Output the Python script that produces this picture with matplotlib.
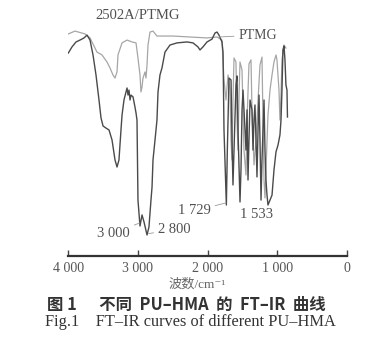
#!/usr/bin/env python3
import matplotlib.pyplot as plt
import numpy as np

plt.rcParams.update({
    "font.family": ["Liberation Serif", "Noto Sans CJK SC", "DejaVu Serif"],
    "font.size": 10,
})

# spectrum of the formulation with many bands (dark curve)
wn_dark = [4000, 3947, 3889, 3832, 3774, 3731, 3688, 3645, 3602, 3559, 3530, 3501,
           3458, 3415, 3372, 3329, 3300, 3272, 3243, 3228, 3200, 3171, 3156, 3142,
           3128, 3113, 3099, 3070, 3042, 3027, 3013, 2999, 2970, 2941, 2912, 2869,
           2841, 2812, 2797, 2783, 2754, 2726, 2711, 2683, 2654, 2611, 2539, 2438,
           2295, 2208, 2137, 2108, 2065, 2007, 1935, 1892, 1863, 1835, 1792, 1777,
           1763, 1729, 1715, 1691, 1662, 1648, 1634, 1619, 1591, 1576, 1562, 1533,
           1519, 1504, 1490, 1461, 1447, 1432, 1418, 1404, 1389, 1361, 1346, 1332,
           1318, 1303, 1289, 1274, 1260, 1246, 1231, 1217, 1188, 1174, 1160, 1145,
           1131, 1102, 1073, 1045, 1016, 987, 959, 944, 930, 916, 901, 887, 873,
           858, 851]
t_dark = [86.0, 88.6, 90.7, 91.5, 92.4, 93.6, 91.5, 85.2, 76.7, 66.1, 58.5, 55.1,
          54.2, 53.4, 49.2, 40.7, 37.7, 40.7, 53.4, 59.7, 66.1, 69.5, 71.2, 68.2,
          70.3, 66.1, 68.2, 67.4, 63.1, 60.6, 57.6, 23.7, 12.7, 17.4, 14.4, 8.9,
          12.3, 23.7, 29.2, 40.7, 49.2, 57.6, 69.5, 76.7, 79.7, 86.4, 89.4, 90.3,
          90.7, 90.3, 88.6, 87.3, 88.6, 90.7, 91.9, 94.5, 94.9, 93.6, 90.7, 86.4,
          53.4, 21.6, 44.9, 75.4, 74.6, 49.2, 30.1, 44.9, 72.5, 76.3, 53.4, 22.9,
          36.4, 61.9, 70.3, 53.4, 44.9, 61.9, 32.2, 49.2, 66.1, 61.9, 44.9, 57.6,
          64.0, 49.2, 33.5, 53.4, 68.2, 49.2, 23.7, 40.7, 66.1, 44.9, 32.2, 25.8,
          21.6, 23.7, 25.8, 36.4, 44.1, 47.0, 51.3, 57.6, 70.3, 87.3, 89.0, 83.1,
          72.5, 70.3, 58.9]

# PTMG (light curve)
wn_light = [4000, 3904, 3760, 3688, 3588, 3516, 3444, 3401, 3358, 3329, 3300, 3286,
            3228, 3156, 3085, 3027, 2999, 2970, 2956, 2941, 2927, 2898, 2884, 2869,
            2855, 2826, 2783, 2726, 2496, 2252, 2007, 1863, 1792, 1763, 1734, 1705,
            1677, 1662, 1648, 1634, 1619, 1591, 1576, 1562, 1547, 1533, 1504, 1476,
            1447, 1432, 1404, 1375, 1361, 1332, 1303, 1274, 1246, 1217, 1203, 1188,
            1174, 1160, 1131, 1102, 1073, 1045, 1016, 1002, 973, 959, 944, 930, 901,
            873]
t_light = [94.1, 95.3, 94.1, 92.4, 86.4, 85.2, 82.2, 79.7, 76.7, 75.4, 78.0, 85.2,
           90.3, 91.5, 90.7, 90.3, 83.9, 76.7, 69.5, 71.6, 75.4, 78.0, 75.4, 80.9,
           89.4, 94.9, 95.3, 93.2, 93.2, 92.8, 92.4, 92.8, 91.5, 74.6, 66.1, 76.7,
           70.3, 49.2, 40.7, 66.1, 83.9, 82.2, 57.6, 44.9, 68.2, 82.2, 78.8, 44.9,
           34.3, 57.6, 81.4, 83.1, 61.9, 38.6, 49.2, 66.1, 80.9, 84.3, 57.6, 32.2,
           24.6, 36.4, 59.7, 70.3, 76.7, 82.2, 85.2, 83.1, 70.3, 57.6, 68.2, 83.1,
           89.4, 88.1]

xticks = [4000, 3000, 2000, 1000, 0]
xticklabels = ['4 000', '3 000', '2 000', '1 000', '0']

W, H = 379, 359
fig = plt.figure(figsize=(W / 100, H / 100), dpi=100)
ax = fig.add_axes([68.3 / W, (H - 256) / H, (346.7 - 68.3) / W, 236 / H])

ax.plot(wn_light, t_light, color='#a6a6a6', linewidth=0.9)
ax.plot(wn_dark, t_dark, color='#4a4a4a', linewidth=1.0)

ax.set_xlim(4000, 0)
ax.set_ylim(0, 100)
for s in ['top', 'left', 'right']:
    ax.spines[s].set_visible(False)
ax.spines['bottom'].set_linewidth(1.6)
ax.spines['bottom'].set_color('#333333')
ax.set_yticks([])
ax.set_xticks(xticks)
ax.set_xticklabels(xticklabels, color='#555555', fontsize=10)
ax.tick_params(axis='x', direction='in', length=4.5, width=1.0, color='#444444', pad=4)

tc = '#505050'
ax.text(3010, 102, '2502A/PTMG', ha='center', va='center', color=tc, fontsize=10.5)
ax.annotate('PTMG', xy=(1835, 92.8), xytext=(1560, 93.6), ha='left', va='center',
            color=tc, fontsize=10,
            arrowprops=dict(arrowstyle='-', color='#999999', lw=0.6, shrinkA=1, shrinkB=0))
ax.annotate('1 729', xy=(1735, 22.5), xytext=(1950, 19.1), ha='right', va='center',
            color=tc, fontsize=10.5,
            arrowprops=dict(arrowstyle='-', color='#999999', lw=0.6, shrinkA=1, shrinkB=0))
ax.text(1292, 17.6, '1 533', ha='center', va='center', color=tc, fontsize=10.5)
ax.annotate('3 000', xy=(2975, 14), xytext=(3110, 9.7), ha='right', va='center',
            color=tc, fontsize=10.5,
            arrowprops=dict(arrowstyle='-', color='#999999', lw=0.6, shrinkA=1, shrinkB=0))
ax.annotate('2 800', xy=(2845, 9.5), xytext=(2715, 11.2), ha='left', va='center',
            color=tc, fontsize=10.5,
            arrowprops=dict(arrowstyle='-', color='#999999', lw=0.6, shrinkA=1, shrinkB=0))

fig.text(197 / W, 1 - 284 / H, '波数/cm⁻¹', ha='center', va='center',
         color='#666666', fontsize=9.5)
fig.text(186 / W, 1 - 305 / H, '图 1      不同  PU–HMA  的  FT–IR  曲线', ha='center',
         va='center', family=['Noto Sans CJK SC'], fontweight='bold', color='#333333',
         fontsize=11.8)
fig.text(190 / W, 1 - 322 / H, 'Fig.1    FT–IR curves of different PU–HMA', ha='center',
         va='center', color='#333333', fontsize=11.8)

fig.savefig('out.png', dpi=100, facecolor='white')
